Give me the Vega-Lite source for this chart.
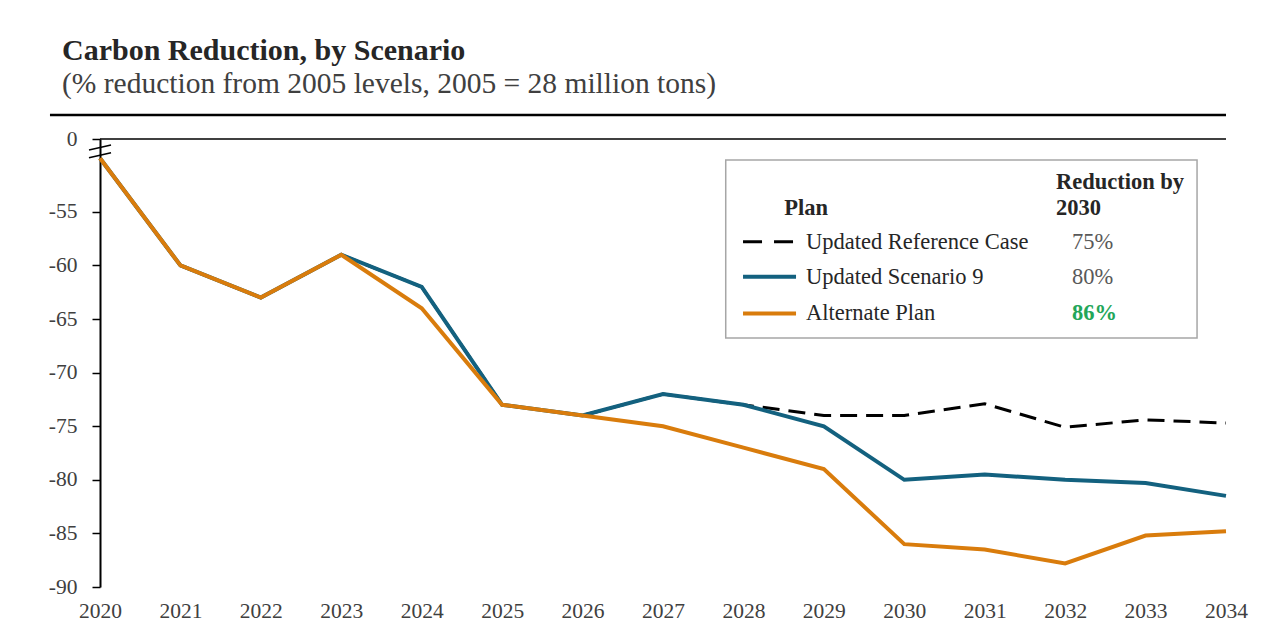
{
  "$schema": "https://vega.github.io/schema/vega-lite/v6.json",
  "width": 1126,
  "height": 448,
  "autosize": {"type": "none"},
  "padding": {"left": 100, "top": 139, "right": 44, "bottom": 50},
  "background": "white",
  "config": {
    "view": {"stroke": null},
    "font": "Liberation Serif",
    "axis": {"labelFont": "Liberation Serif", "grid": false, "title": null}
  },
  "title": {
    "text": "Carbon Reduction, by Scenario",
    "subtitle": "(% reduction from 2005 levels, 2005 = 28 million tons)",
    "anchor": "start",
    "frame": "group",
    "dx": -38,
    "offset": 15,
    "font": "Liberation Serif",
    "fontSize": 30,
    "fontWeight": "bold",
    "color": "#262626",
    "subtitleFont": "Liberation Serif",
    "subtitleFontSize": 29.5,
    "subtitleColor": "#404040",
    "subtitlePadding": 4
  },
  "data": {
    "values": [
      {"year": 2020, "ref": -50, "s9": -50, "alt": -50},
      {"year": 2021, "ref": -60, "s9": -60, "alt": -60},
      {"year": 2022, "ref": -63, "s9": -63, "alt": -63},
      {"year": 2023, "ref": -59, "s9": -59, "alt": -59},
      {"year": 2024, "ref": -62, "s9": -62, "alt": -64},
      {"year": 2025, "ref": -73, "s9": -73, "alt": -73},
      {"year": 2026, "ref": -74, "s9": -74, "alt": -74},
      {"year": 2027, "ref": -72, "s9": -72, "alt": -75},
      {"year": 2028, "ref": -73, "s9": -73, "alt": -77},
      {"year": 2029, "ref": -74, "s9": -75, "alt": -79},
      {"year": 2030, "ref": -74, "s9": -80, "alt": -86},
      {"year": 2031, "ref": -72.9, "s9": -79.5, "alt": -86.5},
      {"year": 2032, "ref": -75.1, "s9": -80, "alt": -87.8},
      {"year": 2033, "ref": -74.4, "s9": -80.3, "alt": -85.2},
      {"year": 2034, "ref": -74.7, "s9": -81.5, "alt": -84.8}
    ]
  },
  "layer": [
    {
      "mark": {"type": "line", "stroke": "black", "strokeWidth": 3, "strokeDash": [17, 9]},
      "encoding": {
        "x": {
          "field": "year",
          "type": "quantitative",
          "scale": {"domain": [2020, 2034], "nice": false, "zero": false},
          "axis": {
            "title": null,
            "values": [2020, 2021, 2022, 2023, 2024, 2025, 2026, 2027, 2028, 2029, 2030, 2031, 2032, 2033, 2034],
            "format": "d",
            "domain": false,
            "ticks": false,
            "labelPadding": 13,
            "labelFontSize": 21.5,
            "labelColor": "#404040",
            "labelFlush": false,
            "labelOverlap": false
          }
        },
        "y": {
          "field": "ref",
          "type": "quantitative",
          "scale": {"domain": [-90, -48.2], "nice": false, "zero": false},
          "axis": {
            "title": null,
            "values": [-90, -85, -80, -75, -70, -65, -60, -55, -48.2],
            "labelExpr": "datum.value > -50 ? '0' : toString(datum.value)",
            "domainColor": "black",
            "domainWidth": 2,
            "tickColor": "black",
            "tickWidth": 1.5,
            "tickSize": 8,
            "labelPadding": 15,
            "labelFontSize": 21.5,
            "labelColor": "#404040"
          }
        }
      }
    },
    {
      "mark": {"type": "line", "stroke": "#13617f", "strokeWidth": 4},
      "encoding": {
        "x": {"field": "year", "type": "quantitative", "title": null},
        "y": {"field": "s9", "type": "quantitative", "title": null}
      }
    },
    {
      "mark": {"type": "line", "stroke": "#d97c0c", "strokeWidth": 4},
      "encoding": {
        "x": {"field": "year", "type": "quantitative", "title": null},
        "y": {"field": "alt", "type": "quantitative", "title": null}
      }
    },
    {
      "data": {"values": [{}]},
      "mark": {"type": "rule", "stroke": "black", "strokeWidth": 1.5},
      "encoding": {"y": {"datum": -48.2}}
    },
    {
      "data": {"values": [{}]},
      "mark": {"type": "rule", "stroke": "black", "strokeWidth": 2.5},
      "encoding": {
        "x": {"datum": 2019.378},
        "x2": {"datum": 2034.0},
        "y": {"datum": -45.96}
      }
    },
    {
      "data": {"values": [{}]},
      "mark": {"type": "rule", "stroke": "black", "strokeWidth": 1.5},
      "encoding": {
        "x": {"datum": 2019.863},
        "x2": {"datum": 2020.137},
        "y": {"datum": -49.23},
        "y2": {"datum": -48.76}
      }
    },
    {
      "data": {"values": [{}]},
      "mark": {"type": "rule", "stroke": "black", "strokeWidth": 1.5},
      "encoding": {
        "x": {"datum": 2019.863},
        "x2": {"datum": 2020.137},
        "y": {"datum": -49.95},
        "y2": {"datum": -49.48}
      }
    },
    {
      "data": {"values": [{}]},
      "mark": {"type": "rect", "fill": "white", "stroke": "#a6a6a6", "strokeWidth": 1.5},
      "encoding": {
        "x": {"datum": 2027.78},
        "x2": {"datum": 2033.64},
        "y": {"datum": -50.15},
        "y2": {"datum": -66.76}
      }
    },
    {
      "data": {"values": [{"t": "Plan"}]},
      "mark": {"type": "text", "align": "center", "baseline": "middle", "fontSize": 22.5, "fontWeight": "bold", "color": "#262626"},
      "encoding": {
        "x": {"datum": 2028.78},
        "y": {"datum": -54.64},
        "text": {"field": "t"}
      }
    },
    {
      "data": {"values": [{"t": "Reduction by"}]},
      "mark": {"type": "text", "align": "left", "baseline": "middle", "fontSize": 22.5, "fontWeight": "bold", "color": "#262626"},
      "encoding": {
        "x": {"datum": 2031.886},
        "y": {"datum": -52.21},
        "text": {"field": "t"}
      }
    },
    {
      "data": {"values": [{"t": "2030"}]},
      "mark": {"type": "text", "align": "left", "baseline": "middle", "fontSize": 22.5, "fontWeight": "bold", "color": "#262626"},
      "encoding": {
        "x": {"datum": 2031.886},
        "y": {"datum": -54.64},
        "text": {"field": "t"}
      }
    },
    {
      "data": {"values": [{}]},
      "mark": {"type": "rule", "stroke": "black", "strokeWidth": 3, "strokeDash": [19, 12]},
      "encoding": {
        "x": {"datum": 2027.995},
        "x2": {"datum": 2028.654},
        "y": {"datum": -57.79}
      }
    },
    {
      "data": {"values": [{}]},
      "mark": {"type": "rule", "stroke": "#13617f", "strokeWidth": 4},
      "encoding": {
        "x": {"datum": 2027.995},
        "x2": {"datum": 2028.654},
        "y": {"datum": -61.05}
      }
    },
    {
      "data": {"values": [{}]},
      "mark": {"type": "rule", "stroke": "#d97c0c", "strokeWidth": 4},
      "encoding": {
        "x": {"datum": 2027.995},
        "x2": {"datum": 2028.654},
        "y": {"datum": -64.47}
      }
    },
    {
      "data": {"values": [
        {"name": "Updated Reference Case", "pos": -57.79},
        {"name": "Updated Scenario 9", "pos": -61.05},
        {"name": "Alternate Plan", "pos": -64.47}
      ]},
      "mark": {"type": "text", "align": "left", "baseline": "middle", "fontSize": 22.5, "color": "#262626"},
      "encoding": {
        "x": {"datum": 2028.778},
        "y": {"field": "pos", "type": "quantitative", "title": null},
        "text": {"field": "name"}
      }
    },
    {
      "data": {"values": [
        {"pct": "75%", "pos": -57.79},
        {"pct": "80%", "pos": -61.05}
      ]},
      "mark": {"type": "text", "align": "left", "baseline": "middle", "fontSize": 22.5, "color": "#595959"},
      "encoding": {
        "x": {"datum": 2032.085},
        "y": {"field": "pos", "type": "quantitative", "title": null},
        "text": {"field": "pct"}
      }
    },
    {
      "data": {"values": [{"pct": "86%", "pos": -64.47}]},
      "mark": {"type": "text", "align": "left", "baseline": "middle", "fontSize": 22.5, "fontWeight": "bold", "color": "#23a659"},
      "encoding": {
        "x": {"datum": 2032.085},
        "y": {"field": "pos", "type": "quantitative", "title": null},
        "text": {"field": "pct"}
      }
    }
  ]
}
